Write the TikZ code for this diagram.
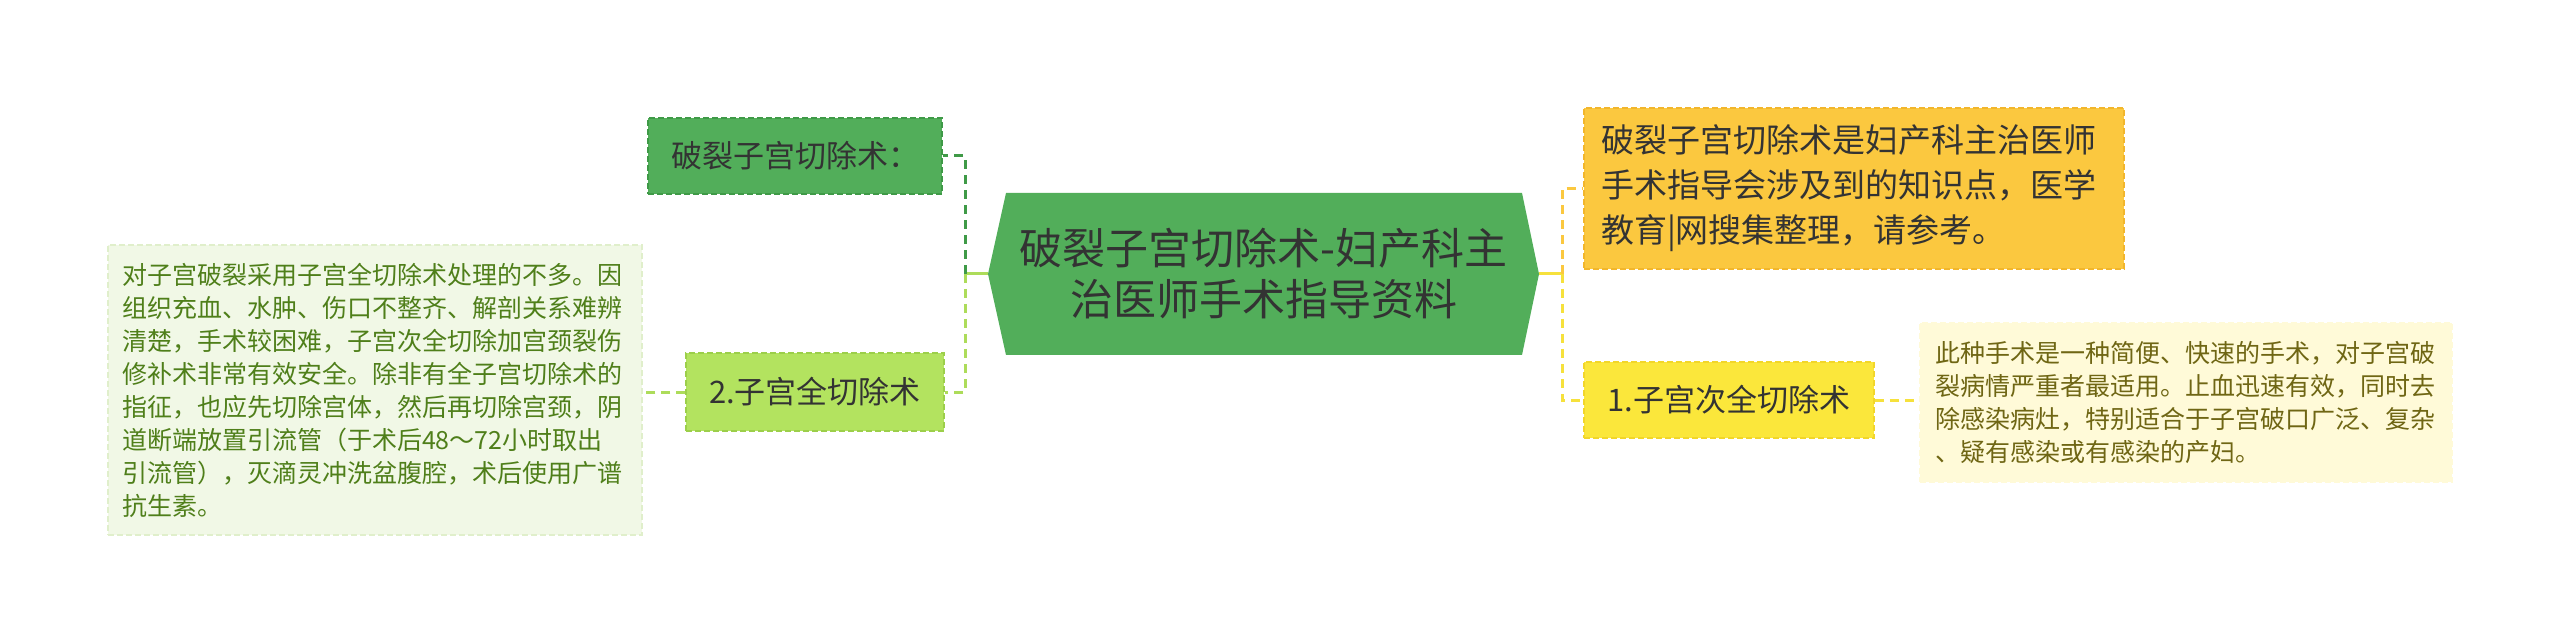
\documentclass[tikz,border=0pt]{standalone}
\usepackage{fontspec}
\setmainfont{Noto Sans CJK SC}
\definecolor{cgreen}{HTML}{52AE5A}
\definecolor{dgreen}{HTML}{3F9A47}
\definecolor{lgreen}{HTML}{B3E35F}
\definecolor{lgreenb}{HTML}{9CCF4A}
\definecolor{lgreenc}{HTML}{ADDC5A}
\definecolor{pgreen}{HTML}{F1F8E6}
\definecolor{pgreenb}{HTML}{E0EFCB}
\definecolor{tgreen}{HTML}{4F7F1A}
\definecolor{orangec}{HTML}{FBC83F}
\definecolor{orangeb}{HTML}{F2B62C}
\definecolor{yellowc}{HTML}{FBE73B}
\definecolor{yellowb}{HTML}{F2D62A}
\definecolor{yellowl}{HTML}{F6E13C}
\definecolor{pyellow}{HTML}{FFFAD8}
\definecolor{tyellow}{HTML}{6F6614}
\definecolor{dtext}{HTML}{333333}
\begin{document}
\begin{tikzpicture}[x=1pt,y=-1pt,
  conn/.style={line width=3pt, dash pattern=on 9pt off 6pt},
  solidconn/.style={line width=3pt},
  topic/.style={dash pattern=on 6pt off 3pt, line width=1.5pt, text=dtext, inner sep=0pt},
  note/.style={dash pattern=on 6pt off 3pt, line width=1.5pt, align=left, inner ysep=0pt,
    font=\fontsize{25}{33}\selectfont}
]
\useasboundingbox[fill=white] (0,0) rectangle (2560,644);

% central hexagon
\fill[cgreen] (988,274) -- (1006,193) -- (1522,193) -- (1539,274) -- (1522,355) -- (1006,355) -- cycle;
\node[text=dtext, align=center, font=\fontsize{43}{51}\selectfont] (c) at (1263.5,274)
  {破裂子宫切除术-妇产科主\\治医师手术指导资料};
\coordinate (cW) at (988,274);
\coordinate (cE) at (1539,274);

% left side
\node[topic, fill=cgreen, draw=dgreen, minimum width=294, minimum height=76,
  font=\fontsize{31}{38}\selectfont] (tl) at (795,156) {破裂子宫切除术：};
\node[topic, fill=lgreen, draw=lgreenb, minimum width=258, minimum height=78,
  font=\fontsize{31}{38}\selectfont] (n2) at (815,392) {2.子宫全切除术};
\node[note, fill=pgreen, draw=pgreenb, text=tgreen, text width=506, inner xsep=14,
  minimum height=290] (lbox) at (375,390)
  {对子宫破裂采用子宫全切除术处理的不多。因\\
   组织充血、水肿、伤口不整齐、解剖关系难辨\\
   清楚，手术较困难，子宫次全切除加宫颈裂伤\\
   修补术非常有效安全。除非有全子宫切除术的\\
   指征，也应先切除宫体，然后再切除宫颈，阴\\
   道断端放置引流管（于术后48～72小时取出\\
   引流管），灭滴灵冲洗盆腹腔，术后使用广谱\\
   抗生素。};

% right side
\node[topic, fill=orangec, draw=orangeb, align=left, text width=506, inner xsep=17,
  minimum height=161, font=\fontsize{33}{45}\selectfont] (or) at (1854,188.5)
  {破裂子宫切除术是妇产科主治医师\\
   手术指导会涉及到的知识点，医学\\
   教育|网搜集整理，请参考。};
\node[topic, fill=yellowc, draw=yellowb, minimum width=290, minimum height=76,
  font=\fontsize{31}{38}\selectfont] (y1) at (1729,400) {1.子宫次全切除术};
\node[note, fill=pyellow, draw=pyellow, text=tyellow, text width=502, inner xsep=15,
  minimum height=159] (rbox) at (2186,402.5)
  {此种手术是一种简便、快速的手术，对子宫破\\
   裂病情严重者最适用。止血迅速有效，同时去\\
   除感染病灶，特别适合于子宫破口广泛、复杂\\
   、疑有感染或有感染的产妇。};

% connectors left
\coordinate (lt) at (965,274);
\draw[solidconn, lgreenc] (cW) -- (lt);
\draw[conn, dgreen] (lt) |- (tl.east);
\draw[conn, lgreenc] (lt) |- (n2.east);
\draw[conn, lgreenc] (n2.west) -- (n2.west -| lbox.east);

% connectors right
\coordinate (rt) at (1562,274);
\draw[solidconn, yellowl] (cE) -- (rt);
\draw[conn, orangec] (rt) |- (or.west);
\draw[conn, yellowl] (rt) |- (y1.west);
\draw[conn, yellowl] (y1.east) -- (y1.east -| rbox.west);
\end{tikzpicture}
\end{document}
